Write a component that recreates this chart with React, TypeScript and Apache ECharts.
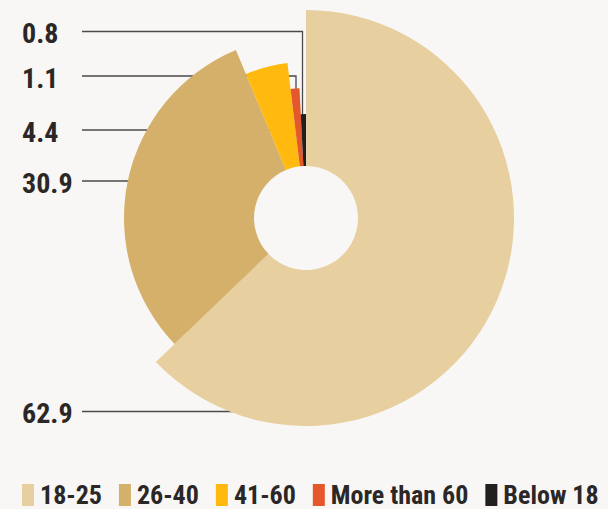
import React, { useEffect, useRef } from 'react';
import * as echarts from 'echarts';

// ---- data ----
const categories = ['18-25', '26-40', '41-60', 'More than 60', 'Below 18'];
const shares = [62.9, 30.9, 4.4, 1.1, 0.8];

// ---- styles ----
const colors = ['#e7cf9f', '#d5b06a', '#ffb90f', '#e5582b', '#231f1e'];
const FONT = "'Roboto Condensed', 'Open Sans', sans-serif";
const TEXT_COLOR = '#2b2727';
const BG = '#f8f7f5';
const CENTER = [306, 218];
const INNER_R = 52;
const RING_STEP = 26;
// annotation placement: label centre y, leader line y, leader end x, optional drop y
const labelPlacement = [
  { labelY: 413, lineY: 411.5, endX: 253, dropY: null as number | null },
  { labelY: 183, lineY: 181, endX: 145, dropY: null },
  { labelY: 132, lineY: 130, endX: 283, dropY: null },
  { labelY: 78, lineY: 76, endX: 296, dropY: 104 },
  { labelY: 33, lineY: 31.5, endX: 302.5, dropY: 140 },
];
const LABEL_X = 22;
const LINE_START_X = 82;

export default function App() {
  const ref = useRef<HTMLDivElement>(null);

  useEffect(() => {
    document.body.style.margin = '0';
    document.body.style.background = BG;
    if (!ref.current) return;
    const chart = echarts.init(ref.current, null, { renderer: 'svg' });

    const total = shares.reduce((a, b) => a + b, 0);
    const sortedAsc = [...shares].sort((a, b) => a - b);
    let cum = 0;
    const series = shares.map((v, i) => {
      const start = 90 - (cum / total) * 360;
      const end = start - (v / total) * 360;
      cum += v;
      const rank = sortedAsc.indexOf(v);
      const outer = INNER_R + RING_STEP * (rank + 2);
      const p = labelPlacement[i];
      const pts: number[][] = [
        [LINE_START_X, p.lineY],
        [p.endX, p.lineY],
      ];
      if (p.dropY !== null) pts.push([p.endX, p.dropY]);
      return {
        type: 'pie',
        name: categories[i],
        center: CENTER,
        radius: [INNER_R, outer],
        startAngle: start,
        endAngle: end,
        clockwise: true,
        avoidLabelOverlap: false,
        silent: true,
        emphasis: { disabled: true },
        itemStyle: { color: colors[i], borderWidth: 0 },
        label: {
          show: true,
          position: 'outside',
          formatter: '{c}',
          color: TEXT_COLOR,
          fontFamily: FONT,
          fontWeight: 'bold',
          fontSize: 28,
        },
        labelLine: {
          show: true,
          lineStyle: { color: '#4a4a4a', width: 1.3 },
        },
        labelLayout: () => ({
          x: LABEL_X,
          y: p.labelY,
          align: 'left',
          verticalAlign: 'middle',
          labelLinePoints: pts,
        }),
        data: [{ name: categories[i], value: v }],
      };
    });

    chart.setOption({
      animation: false,
      backgroundColor: BG,
      legend: {
        data: categories,
        left: 22,
        top: 482,
        width: 600,
        padding: 0,
        icon: 'rect',
        itemWidth: 12,
        itemHeight: 22,
        itemGap: 17,
        selectedMode: false,
        textStyle: {
          color: TEXT_COLOR,
          fontFamily: FONT,
          fontWeight: 'bold',
          fontSize: 26,
          padding: [0, 0, 0, 1],
        },
      },
      series,
    });

    return () => chart.dispose();
  }, []);

  return <div ref={ref} style={{ width: 608, height: 509 }} />;
}
